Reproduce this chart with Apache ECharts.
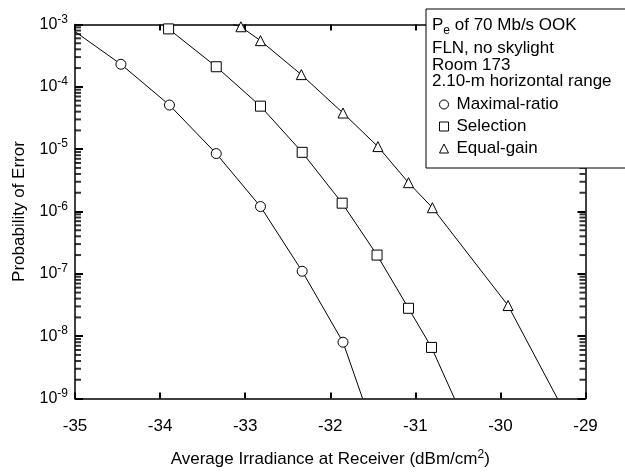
<!DOCTYPE html>
<html>
<head>
<meta charset="utf-8">
<script src="https://cdn.jsdelivr.net/npm/echarts@6/dist/echarts.min.js"></script>
<style>
  html, body { margin: 0; padding: 0; background: #fff; }
  #chart { width: 625px; height: 473px; }
</style>
</head>
<body>
<div id="chart"></div>
<script>
// x: irradiance (dBm/cm2), y: probability of error
// first/last points of each curve are where the line meets the frame (no marker)
const maximalX = [-35, -34.46, -33.89, -33.34, -32.82, -32.33, -31.85, -31.62];
const maximalP = [7.7e-4, 2.3e-4, 5.1e-5, 8.5e-6, 1.2e-6, 1.1e-7, 8e-9, 1e-9];

const selectionX = [-33.96, -33.9, -33.34, -32.82, -32.33, -31.86, -31.45, -31.08, -30.81, -30.54];
const selectionP = [1e-3, 8.5e-4, 2.1e-4, 4.9e-5, 8.9e-6, 1.36e-6, 2.0e-7, 2.8e-8, 6.6e-9, 1e-9];

const equalX = [-33.14, -33.05, -32.82, -32.34, -31.85, -31.44, -31.08, -30.80, -29.91, -29.33];
const equalP = [1e-3, 9.2e-4, 5.5e-4, 1.57e-4, 3.8e-5, 1.1e-5, 2.9e-6, 1.15e-6, 3.1e-8, 1e-9];

const xTicks = [-35, -34, -33, -32, -31, -30, -29];
const decades = [-9, -8, -7, -6, -5, -4];
const mantissas = [2, 3, 4, 5, 6, 7, 8, 9];

const headerLines = ['FLN, no skylight', 'Room 173', '2.10-m horizontal range'];

const FONT = "'Liberation Sans', Arial, sans-serif";

// 端点不画符号
const toPoints = (xs, ps) => xs.map((x, i) => {
  const item = { value: [x, ps[i]] };
  if (i === 0 || i === xs.length - 1) item.symbol = 'none';
  return item;
});

// 对数次刻度值 2..9 × 10^n
const minorValues = [];
decades.forEach(d => mantissas.forEach(m => minorValues.push(m * Math.pow(10, d))));

const chart = echarts.init(document.getElementById('chart'));

const lineSeries = (name, symbol, size, xs, ps) => ({
  name,
  type: 'line',
  data: toPoints(xs, ps),
  symbol,
  symbolSize: size,
  showAllSymbol: true,
  lineStyle: { color: '#000', width: 1 },
  itemStyle: { color: '#fff', borderColor: '#000', borderWidth: 1 },
  emphasis: { disabled: true },
  z: 3
});

// minor ticks drawn as small rect symbols on the frame edges
const tickSeries = (xEdge, dir) => ({
  type: 'scatter',
  clip: false,
  symbol: 'rect',
  symbolSize: [6, 2],
  symbolOffset: [3 * dir, 0],
  itemStyle: { color: '#000' },
  data: minorValues.map(v => [xEdge, v]),
  z: 4
});

const tickStyle = { color: '#000', width: 2 };

const option = {
  animation: false,
  textStyle: { fontFamily: FONT },
  grid: { left: 75, top: 24.5, right: 39.5, bottom: 69 },
  xAxis: [
    {
      type: 'value',
      min: -35,
      max: -29,
      interval: 1,
      splitLine: { show: false },
      axisLine: { show: true, lineStyle: { color: '#000', width: 1.5 } },
      axisTick: { show: true, inside: true, length: 6, lineStyle: tickStyle },
      name: 'Average Irradiance at Receiver (dBm/cm{sup|2})',
      nameLocation: 'middle',
      nameGap: 50,
      nameTextStyle: {
        color: '#000', fontSize: 17, fontFamily: FONT,
        rich: { sup: { fontSize: 12, verticalAlign: 'top', lineHeight: 22, fontFamily: FONT } }
      },
      axisLabel: { color: '#000', fontSize: 17, margin: 19, fontFamily: FONT, formatter: v => xTicks.includes(v) ? String(v) : '' }
    },
    {
      type: 'value',
      position: 'top',
      min: -35,
      max: -29,
      interval: 1,
      splitLine: { show: false },
      axisLine: { show: true, lineStyle: { color: '#000', width: 1.5 } },
      axisTick: { show: true, inside: true, length: 6, lineStyle: tickStyle },
      axisLabel: { show: false }
    }
  ],
  yAxis: [
    {
      type: 'log',
      min: 1e-9,
      max: 1e-3,
      splitLine: { show: false },
      axisLine: { show: true, lineStyle: { color: '#000', width: 1.5 } },
      axisTick: { show: true, inside: true, length: 8, lineStyle: tickStyle },
      name: 'Probability of Error',
      nameLocation: 'middle',
      nameGap: 47,
      nameTextStyle: { color: '#000', fontSize: 17, fontFamily: FONT },
      axisLabel: {
        color: '#000',
        fontSize: 16,
        margin: 7,
        fontFamily: FONT,
        formatter: v => '10{sup|' + Math.round(Math.log10(v)) + '}',
        rich: { sup: { fontSize: 12, verticalAlign: 'top', lineHeight: 22, fontFamily: FONT } }
      }
    },
    {
      type: 'log',
      position: 'right',
      min: 1e-9,
      max: 1e-3,
      splitLine: { show: false },
      axisLine: { show: true, lineStyle: { color: '#000', width: 1.5 } },
      axisTick: { show: true, inside: true, length: 8, lineStyle: tickStyle },
      axisLabel: { show: false }
    }
  ],
  legend: {
    orient: 'vertical',
    left: 434,
    top: 89,
    itemWidth: 9,
    itemHeight: 9,
    itemGap: 1,
    z: 60,
    selectedMode: false,
    textStyle: { color: '#000', fontSize: 17, lineHeight: 21, fontFamily: FONT, padding: [0, 0, 0, 3] },
    data: [
      { name: 'Maximal-ratio', icon: 'circle', itemStyle: { color: '#fff', borderColor: '#000', borderWidth: 1 } },
      { name: 'Selection', icon: 'rect', itemStyle: { color: '#fff', borderColor: '#000', borderWidth: 1 } },
      { name: 'Equal-gain', icon: 'triangle', itemStyle: { color: '#fff', borderColor: '#000', borderWidth: 1 } }
    ]
  },
  graphic: [
    {
      type: 'rect',
      z: 50,
      shape: { x: 426, y: 9, width: 210, height: 159 },
      style: { fill: '#fff', stroke: '#000', lineWidth: 1 }
    },
    {
      type: 'text',
      z: 51,
      left: 432,
      top: 17,
      style: {
        text: 'P{sub|e} of 70 Mb/s OOK',
        fill: '#000',
        font: '17px ' + FONT,
        rich: { sub: { fontSize: 12, verticalAlign: 'bottom', lineHeight: 22, fontFamily: FONT } }
      }
    },
    {
      type: 'text',
      z: 51,
      left: 432,
      top: 40,
      style: {
        text: headerLines.join('\n'),
        fill: '#000',
        font: '17px ' + FONT,
        lineHeight: 16.5
      }
    }
  ],
  series: [
    lineSeries('Maximal-ratio', 'circle', 10, maximalX, maximalP),
    lineSeries('Selection', 'rect', 10, selectionX, selectionP),
    lineSeries('Equal-gain', 'triangle', 10, equalX, equalP),
    tickSeries(-35, 1),
    tickSeries(-29, -1)
  ]
};

chart.setOption(option);
</script>
</body>
</html>
